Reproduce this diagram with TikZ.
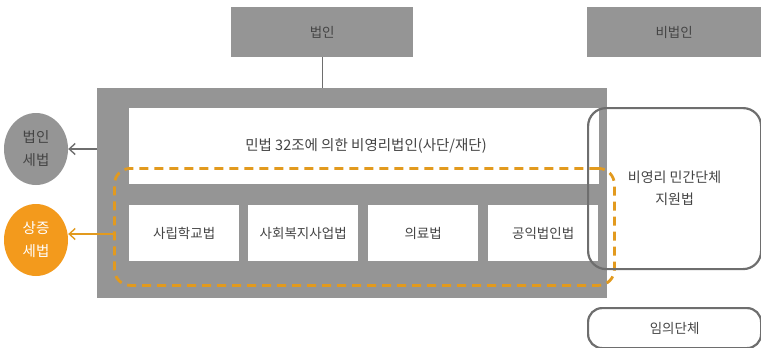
\documentclass[tikz,border=0pt]{standalone}
\usepackage{fontspec}
\setmainfont{Noto Sans CJK KR}
\usetikzlibrary{arrows.meta,shapes.geometric}
\definecolor{boxgray}{HTML}{959595}
\definecolor{txtgray}{HTML}{444444}
\definecolor{linegray}{HTML}{6E6E6E}
\definecolor{orangeline}{HTML}{E29A1E}
\definecolor{orangefill}{HTML}{F39A1C}
\begin{document}
\begin{tikzpicture}[x=1pt,y=-1pt,
  font=\fontsize{13.5}{16}\selectfont, text=txtgray,
  graybox/.style={fill=boxgray, draw=none, inner sep=0pt, anchor=north west},
  whitebox/.style={fill=white, draw=none, inner sep=0pt, anchor=north west, align=center},
  roundbox/.style={draw=linegray, line width=2.2pt, rounded corners=18pt, inner sep=0pt, anchor=north west, align=center},
  taxcirc/.style={ellipse, minimum width=64pt, minimum height=72pt, inner sep=0pt, align=center, draw=none, font=\fontsize{14.5}{23}\selectfont},
  arr/.style={line width=1.4pt, -{Straight Barb[length=6pt,width=11pt,line width=1.4pt]}}
]
\useasboundingbox (0,0) rectangle (761,348);
% top boxes
\node[graybox, minimum width=182pt, minimum height=50pt] (beopin) at (231,7) {법인};
\node[graybox, minimum width=174pt, minimum height=50pt] (bibeopin) at (587,7) {비법인};
% big gray box
\node[graybox, minimum width=510pt, minimum height=210pt] (bigbox) at (97,88) {};
\draw[linegray, line width=1.4pt] (beopin.south) -- (beopin.south |- bigbox.north);
% inner white boxes
\node[whitebox, minimum width=470pt, minimum height=76pt] (civil) at (129,108) {};
\node at (366,146) [font=\fontsize{14.5}{17}\selectfont] (civiltext) {민법 32조에 의한 비영리법인(사단/재단)};
\node[whitebox, minimum width=110pt, minimum height=56pt] (b1) at (129,205) {사립학교법};
\node[whitebox, minimum width=110pt, minimum height=56pt] (b2) at (248,205) {사회복지사업법};
\node[whitebox, minimum width=110pt, minimum height=56pt] (b3) at (368,205) {의료법};
\node[whitebox, minimum width=110pt, minimum height=56pt] (b4) at (488,205) {공익법인법};
% dashed orange
\node[draw=orangeline, line width=2.8pt, dash pattern=on 9pt off 6pt, rounded corners=16pt,
      minimum width=500pt, minimum height=117pt, inner sep=0pt, anchor=north west] (dashbox) at (113,167) {};
% right rounded boxes
\node[roundbox, minimum width=173pt, minimum height=161pt] (npo) at (587,107) {};
\node at (npo.center) [align=center, font=\fontsize{14}{22}\selectfont] (npotext) {비영리 민간단체\\지원법};
\node[roundbox, rounded corners=14pt, minimum width=173pt, minimum height=40pt] (imui) at (587,307) {임의단체};
% left circles
\node[taxcirc, fill=boxgray] (gcirc) at (36,149) {법인\\세법};
\node[taxcirc, fill=orangefill, text=white] (ocirc) at (36,240) {상증\\세법};
% arrows
\draw[arr, linegray] (bigbox.west |- gcirc.east) -- (gcirc.east);
\draw[arr, orangeline] (dashbox.west |- 0,234) coordinate (oa) -- (oa -| ocirc.east);
\end{tikzpicture}
\end{document}
